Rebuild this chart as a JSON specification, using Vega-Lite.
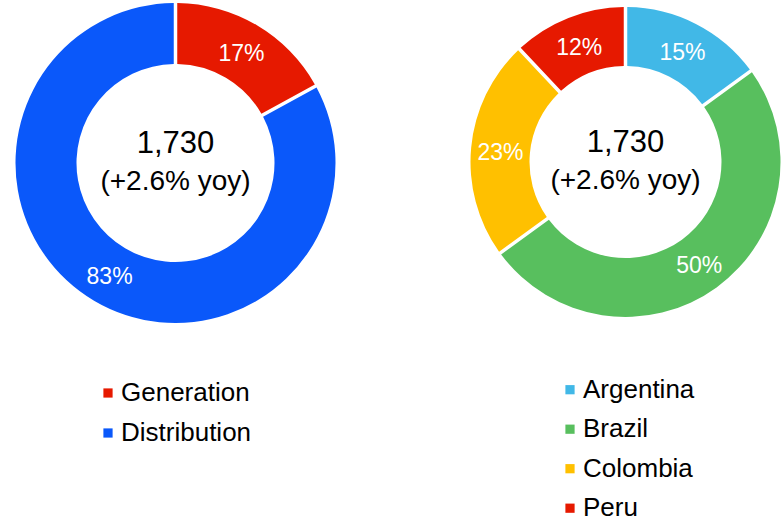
{
  "$schema": "https://vega.github.io/schema/vega-lite/v6.json",
  "padding": 0,
  "spacing": 119,
  "bounds": "flush",
  "config": {"view": {"stroke": null}, "font": "Liberation Sans", "text": {"font": "Liberation Sans"}},
  "resolve": {"scale": {"color": "independent"}, "legend": {"color": "independent"}},
  "hconcat": [
    {
      "width": 351,
      "height": 326,
      "layer": [
        {
          "data": {"values": [
            {"segment": "Generation", "share": 17, "rank": 1, "label": "17%"},
            {"segment": "Distribution", "share": 83, "rank": 2, "label": "83%"}
          ]},
          "layer": [
            {
              "mark": {"type": "arc", "innerRadius": 99, "outerRadius": 160, "padAngle": 0.0186},
              "encoding": {
                "theta": {"field": "share", "type": "quantitative", "stack": true},
                "order": {"field": "rank", "type": "quantitative"},
                "color": {
                  "field": "segment", "type": "nominal",
                  "scale": {"domain": ["Generation", "Distribution"], "range": ["#E61900", "#0A58FA"]},
                  "legend": {"orient": "none", "legendX": 95, "legendY": 380, "title": null, "symbolType": "square", "symbolSize": 85, "symbolStrokeWidth": 0, "labelFontSize": 26, "labelFont": "Liberation Sans", "labelColor": "black", "rowPadding": 14, "labelOffset": 0, "padding": 0}
                }
              }
            },
            {
              "mark": {"type": "text", "radius": 129.5, "fontSize": 23, "color": "white", "baseline": "middle", "align": "center", "dy": 2.5},
              "encoding": {
                "theta": {"field": "share", "type": "quantitative", "stack": true},
                "order": {"field": "rank", "type": "quantitative"},
                "detail": {"field": "segment"},
                "text": {"field": "label"}
              }
            }
          ]
        },
        {
          "data": {"values": [{"total": "1,730", "change": "(+2.6% yoy)"}]},
          "layer": [
            {"mark": {"type": "text", "fontSize": 31, "dy": -19.5, "color": "black", "baseline": "middle"}, "encoding": {"text": {"field": "total"}}},
            {"mark": {"type": "text", "fontSize": 28, "dy": 18.5, "color": "black", "baseline": "middle"}, "encoding": {"text": {"field": "change"}}}
          ]
        }
      ]
    },
    {
      "width": 311,
      "height": 324,
      "layer": [
        {
          "data": {"values": [
            {"country": "Argentina", "share": 15, "rank": 1, "label": "15%"},
            {"country": "Brazil", "share": 50, "rank": 2, "label": "50%"},
            {"country": "Colombia", "share": 23, "rank": 3, "label": "23%"},
            {"country": "Peru", "share": 12, "rank": 4, "label": "12%"}
          ]},
          "layer": [
            {
              "mark": {"type": "arc", "innerRadius": 96, "outerRadius": 155, "padAngle": 0.0192},
              "encoding": {
                "theta": {"field": "share", "type": "quantitative", "stack": true},
                "order": {"field": "rank", "type": "quantitative"},
                "color": {
                  "field": "country", "type": "nominal",
                  "scale": {"domain": ["Argentina", "Brazil", "Colombia", "Peru"], "range": ["#41B8E7", "#58BF5E", "#FFC000", "#E61900"]},
                  "legend": {"orient": "none", "legendX": 87, "legendY": 376.7, "title": null, "symbolType": "square", "symbolSize": 85, "symbolStrokeWidth": 0, "labelFontSize": 26, "labelFont": "Liberation Sans", "labelColor": "black", "rowPadding": 13.5, "labelOffset": 0, "padding": 0}
                }
              }
            },
            {
              "mark": {"type": "text", "radius": 125.5, "fontSize": 23, "color": "white", "baseline": "middle", "align": "center", "dy": 2.5},
              "encoding": {
                "theta": {"field": "share", "type": "quantitative", "stack": true},
                "order": {"field": "rank", "type": "quantitative"},
                "detail": {"field": "country"},
                "text": {"field": "label"}
              }
            }
          ]
        },
        {
          "data": {"values": [{"total": "1,730", "change": "(+2.6% yoy)"}]},
          "layer": [
            {"mark": {"type": "text", "fontSize": 31, "dy": -19.5, "color": "black", "baseline": "middle"}, "encoding": {"text": {"field": "total"}}},
            {"mark": {"type": "text", "fontSize": 28, "dy": 18.5, "color": "black", "baseline": "middle"}, "encoding": {"text": {"field": "change"}}}
          ]
        }
      ]
    }
  ]
}
